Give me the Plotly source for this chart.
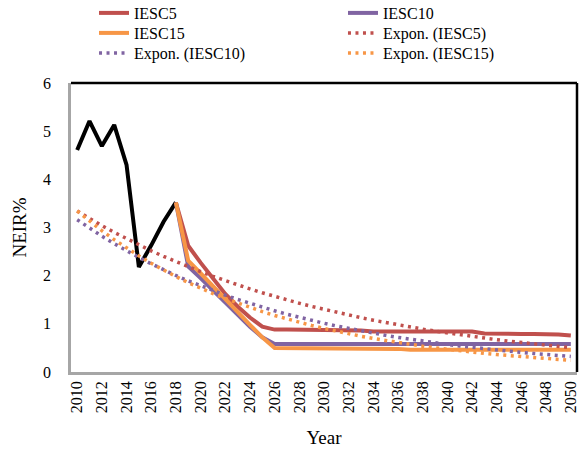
import numpy as np
import plotly.graph_objects as go

years = list(range(2010, 2051))
hist_years = list(range(2010, 2019))
history = [4.61, 5.21, 4.69, 5.13, 4.30, 2.18, 2.63, 3.12, 3.52]

proj_years = list(range(2018, 2051))
iesc5 = [3.52, 2.62, 2.27, 1.93, 1.62, 1.36, 1.13, 0.94,
         0.88, 0.88, 0.88, 0.88, 0.88, 0.88, 0.88, 0.86,
         0.84, 0.84, 0.84, 0.84, 0.84, 0.84, 0.84, 0.84, 0.84,
         0.80, 0.79, 0.79, 0.79, 0.79, 0.79, 0.78, 0.76]
iesc10 = [3.52, 2.19, 1.95, 1.70, 1.44, 1.18, 0.94, 0.72,
          0.58, 0.58, 0.58, 0.58, 0.58, 0.58, 0.58, 0.58,
          0.58, 0.58, 0.58, 0.58, 0.58, 0.58, 0.58, 0.58, 0.58,
          0.58, 0.58, 0.58, 0.58, 0.58, 0.58, 0.58, 0.58]
iesc15 = [3.52, 2.31, 2.05, 1.79, 1.52, 1.25, 0.98, 0.72,
          0.50, 0.50, 0.50, 0.50, 0.50, 0.50, 0.50, 0.50,
          0.50, 0.50, 0.48, 0.46, 0.46, 0.46, 0.46, 0.46, 0.46,
          0.46, 0.46, 0.46, 0.46, 0.46, 0.46, 0.46, 0.46]

series_names = ["IESC5", "IESC10", "IESC15"]
series_colors = ["#C0504D", "#8064A2", "#F79646"]
series_values = [iesc5, iesc10, iesc15]

x_tick_labels = [str(y) for y in range(2010, 2051, 2)]
y_tick_labels = ["0", "1", "2", "3", "4", "5", "6"]

FONT = "Liberation Serif, Times New Roman, serif"

W, H = 588, 450
ML, MR, MT, MB = 71, 11, 83, 78
PLOT_H = H - MT - MB


def expon_fit(values):
    full = np.array(history[:-1] + values, dtype=float)
    t = np.arange(1, len(full) + 1)
    b, ln_a = np.polyfit(t, np.log(full), 1)
    return list(np.exp(ln_a) * np.exp(b * t))


def row_y(center_px):
    return 1 + (MT - center_px) / PLOT_H


col_x = [0.0455, 0.5375]
row_c = [13, 33, 53]

# legend slot (column, row) for each trace name
slots = {
    "IESC5": (0, 0), "IESC10": (1, 0),
    "IESC15": (0, 1), "Expon. (IESC5)": (1, 1),
    "Expon. (IESC10)": (0, 2), "Expon. (IESC15)": (1, 2),
}
legend_ids = {}
legend_layouts = {}
for i, (nm, (c, r)) in enumerate(slots.items()):
    lid = "legend" if i == 0 else f"legend{i + 1}"
    legend_ids[nm] = lid
    legend_layouts[lid] = dict(x=col_x[c], y=row_y(row_c[r]), xanchor="left",
                               yanchor="middle", orientation="v",
                               font=dict(family=FONT, size=16),
                               bgcolor="rgba(0,0,0,0)", borderwidth=0)

fig = go.Figure()

fig.add_trace(go.Scatter(x=hist_years, y=history, mode="lines",
                         line=dict(color="#000000", width=4),
                         showlegend=False, hoverinfo="skip"))

for name, col, vals in zip(series_names, series_colors, series_values):
    fig.add_trace(go.Scatter(x=proj_years, y=vals, mode="lines", name=name,
                             line=dict(color=col, width=4),
                             legend=legend_ids[name]))

for name, col, vals in zip(series_names, series_colors, series_values):
    nm = f"Expon. ({name})"
    fig.add_trace(go.Scatter(x=years, y=expon_fit(vals), mode="lines",
                             name=nm,
                             line=dict(color=col, width=3.5, dash="3px,4.5px"),
                             legend=legend_ids[nm]))

fig.update_layout(
    width=W, height=H,
    margin=dict(l=ML, r=MR, t=MT, b=MB, autoexpand=False),
    paper_bgcolor="white", plot_bgcolor="white",
    font=dict(family=FONT, size=16, color="#000000"),
    xaxis=dict(range=[2009.5, 2050.5], tickmode="array",
               tickvals=list(range(2010, 2051, 2)), ticktext=x_tick_labels,
               tickangle=-90, showgrid=False, zeroline=False,
               showline=True, linecolor="#A6A6A6", linewidth=2.5,
               ticks="", automargin=False,
               title=dict(text="Year", standoff=19),
               tickfont=dict(size=16)),
    yaxis=dict(range=[0, 6], tickmode="array", tickvals=list(range(0, 7)),
               ticktext=y_tick_labels, showgrid=False, zeroline=False,
               showline=True, linecolor="#A6A6A6", linewidth=2.5,
               ticks="", ticklabelstandoff=14, automargin=False,
               title=dict(text="NEIR%", standoff=12),
               tickfont=dict(size=16)),
    shapes=[
        dict(type="line", xref="x domain", yref="y domain", x0=0, x1=1,
             y0=1, y1=1, line=dict(color="#000000", width=2.5)),
        dict(type="line", xref="x domain", yref="y domain", x0=1, x1=1,
             y0=0, y1=1, line=dict(color="#000000", width=2.5)),
    ],
    **legend_layouts,
)

fig.write_html("out.html",
               config={"displayModeBar": False},
               post_script="document.body.style.margin='0';"
                           "document.body.style.overflow='hidden';")
